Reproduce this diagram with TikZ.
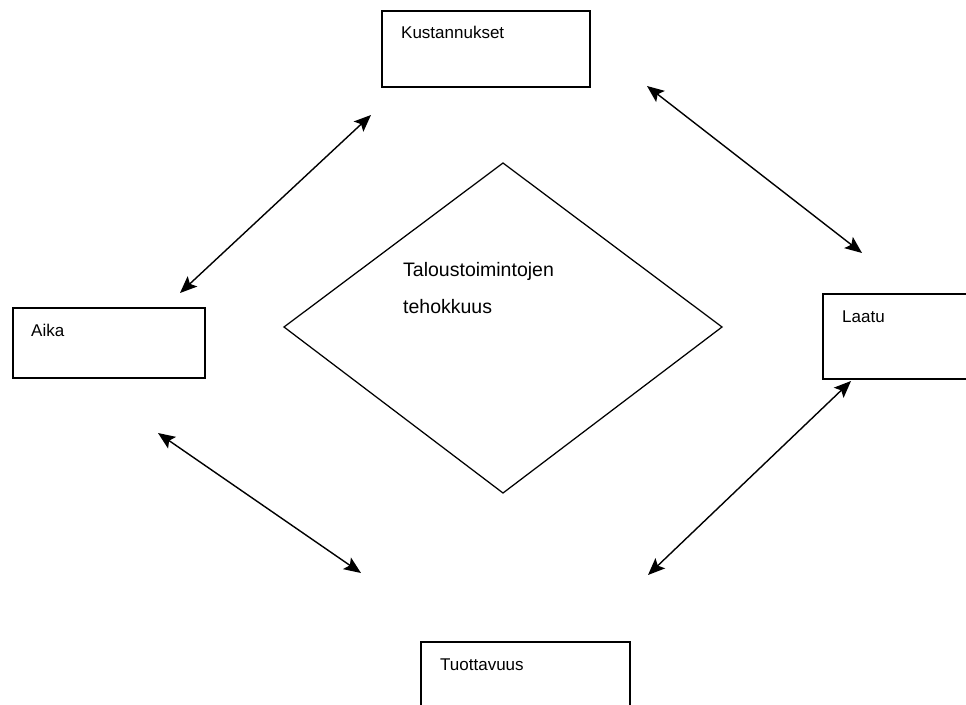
\documentclass[tikz,border=0pt]{standalone}
\usepackage{fontspec}
\setmainfont{Liberation Sans}
\usetikzlibrary{arrows.meta}
\begin{document}
\begin{tikzpicture}[x=1pt,y=-1pt,
  box/.style={draw, line width=1.7pt, inner sep=0pt, anchor=north west},
  lbl/.style={inner sep=0pt, anchor=base west, font=\fontsize{17}{20}\selectfont},
  mid/.style={inner sep=0pt, anchor=base west, font=\fontsize{19.5}{23}\selectfont},
  tip/.style={Stealth[length=17pt,width=14pt,inset=3.5pt]},
  link/.style={line width=1.4pt, {Stealth[length=17pt,width=14pt,inset=3.5pt]}-{Stealth[length=17pt,width=14pt,inset=3.5pt]}}]
  \clip (0,0) rectangle (966,704);
  \fill[white] (0,0) rectangle (966,704);

  % four boxes with their labels
  \node[box, minimum width=208pt, minimum height=76pt] (kust) at (381,10) {};
  \node[lbl] (kustL) at (401,38) {Kustannukset};
  \node[box, minimum width=192pt, minimum height=70pt] (aika) at (12,307) {};
  \node[lbl] (aikaL) at (31,336) {Aika};
  \node[box, minimum width=160pt, minimum height=85pt] (laatu) at (822,293) {};
  \node[lbl] (laatuL) at (842,322) {Laatu};
  \node[box, minimum width=209pt, minimum height=80pt] (tuot) at (420,641) {};
  \node[lbl] (tuotL) at (440,670) {Tuottavuus};

  % central diamond
  \coordinate (dl) at (284,327);
  \coordinate (dt) at (503,163);
  \coordinate (dr) at (722,327);
  \coordinate (db) at (503,493);
  \draw[line width=1.25pt, line join=miter] (dl) -- (dt) -- (dr) -- (db) -- cycle;
  \node[mid] (t1) at (403,276) {Taloustoimintojen};
  \node[mid] (t2) at (403,313) {tehokkuus};

  % two-headed links between the boxes
  \coordinate (a1) at (371,115);
  \coordinate (a2) at (180,293);
  \coordinate (b1) at (647,86);
  \coordinate (b2) at (862,253);
  \coordinate (c1) at (158,433);
  \coordinate (c2) at (361,573);
  \coordinate (d1) at (851,381);
  \coordinate (d2) at (648,575);
  \draw[link] (a1) -- (a2);
  \draw[link] (b1) -- (b2);
  \draw[link] (c1) -- (c2);
  \draw[link] (d1) -- (d2);
\end{tikzpicture}
\end{document}
